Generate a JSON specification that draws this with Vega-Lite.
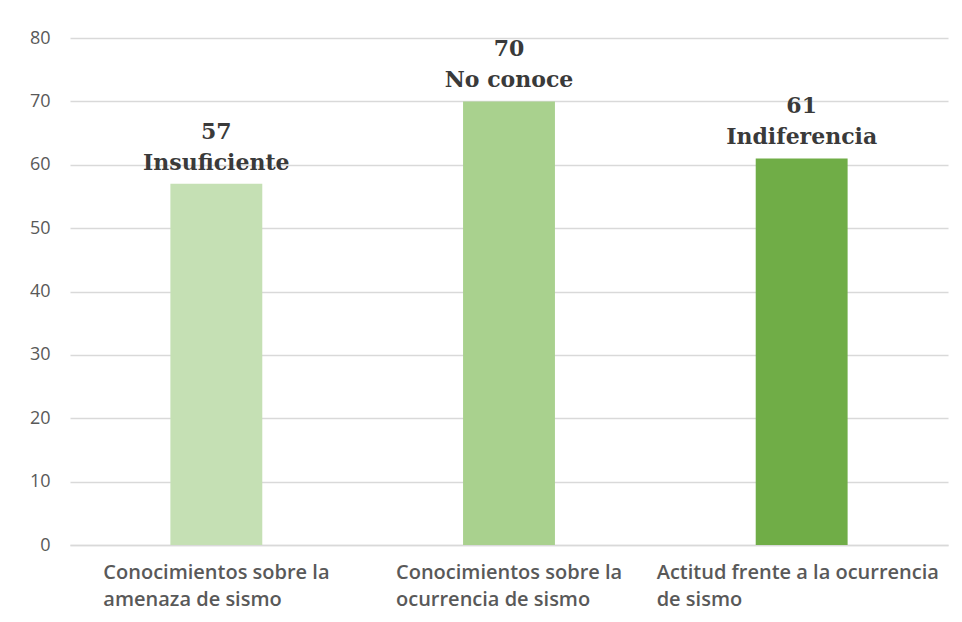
{
  "$schema": "https://vega.github.io/schema/vega-lite/v6.json",
  "autosize": "none",
  "width": 878,
  "height": 507,
  "padding": {"left": 70, "top": 38, "right": 14, "bottom": 77},
  "background": "white",
  "config": {"view": {"stroke": null}},
  "data": {
    "values": [
      {"categoria": "Conocimientos sobre la|amenaza de sismo", "valor": 57, "nivel": "Insuficiente", "color": "#c5e0b4"},
      {"categoria": "Conocimientos sobre la|ocurrencia de sismo", "valor": 70, "nivel": "No conoce", "color": "#a9d18e"},
      {"categoria": "Actitud frente a la ocurrencia|de sismo", "valor": 61, "nivel": "Indiferencia", "color": "#70ad47"}
    ]
  },
  "encoding": {
    "x": {
      "field": "categoria", "type": "nominal", "sort": null,
      "scale": {"paddingInner": 0.686, "paddingOuter": 0.343},
      "axis": {
        "title": null, "labelAngle": 0, "ticks": false,
        "domainColor": "#d9d9d9", "domainWidth": 1.5,
        "labelExpr": "split(datum.value, '|')",
        "labelAlign": "left",
        "labelOffset": {"condition": {"test": "indexof(datum.value, 'Actitud') >= 0", "value": -145}, "value": -113},
        "labelFont": "Open Sans", "labelFontSize": 20, "labelFontWeight": 600,
        "labelColor": "#595959", "labelPadding": 17, "labelLineHeight": 27,
        "labelLimit": 0
      }
    },
    "y": {
      "field": "valor", "type": "quantitative",
      "scale": {"domain": [0, 80]},
      "axis": {
        "title": null, "values": [0, 10, 20, 30, 40, 50, 60, 70, 80],
        "ticks": false, "domain": false, "gridColor": "#d9d9d9", "gridWidth": 1.5,
        "labelFont": "Open Sans", "labelFontSize": 18, "labelColor": "#595959",
        "labelPadding": 20
      }
    }
  },
  "layer": [
    {"mark": {"type": "bar"}, "encoding": {"color": {"field": "color", "type": "nominal", "scale": null}}},
    {"mark": {"type": "text", "baseline": "bottom", "dy": -9, "font": "DejaVu Serif", "fontSize": 22, "fontWeight": "bold", "color": "#3a3a3a"},
     "encoding": {"text": {"field": "nivel"}}},
    {"mark": {"type": "text", "baseline": "bottom", "dy": -40, "font": "DejaVu Serif", "fontSize": 22, "fontWeight": "bold", "color": "#3a3a3a"},
     "encoding": {"text": {"field": "valor"}}}
  ]
}
